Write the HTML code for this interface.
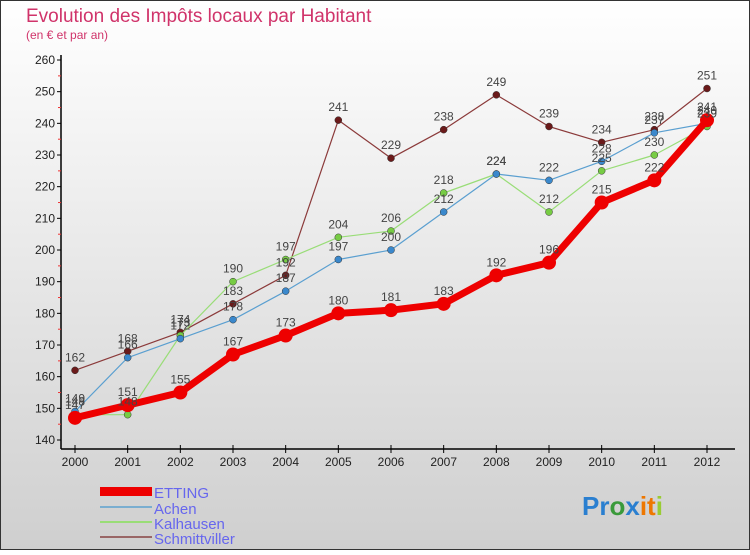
<!DOCTYPE html>
<html><head><meta charset="utf-8"><style>
body{margin:0;width:750px;height:550px;overflow:hidden;font-family:"Liberation Sans",sans-serif}
</style></head><body>
<svg width="750" height="550" xmlns="http://www.w3.org/2000/svg">
<defs><linearGradient id="bg" x1="0" y1="0" x2="0" y2="1"><stop offset="0" stop-color="#ffffff"/><stop offset="1" stop-color="#cfcfcf"/></linearGradient></defs>
<rect x="0.5" y="0.5" width="749" height="549" fill="url(#bg)" stroke="#333"/>
<text x="26" y="22" font-size="19" fill="#d0336a">Evolution des Impôts locaux par Habitant</text>
<text x="26" y="39" font-size="12" fill="#d0336a">(en € et par an)</text>
<g id="axes"></g><g id="series"></g><g id="labels"></g>
<g font-size="15" fill="#6666ee">
<rect x="100" y="487" width="52" height="9" fill="#ee0000"/>
<text x="154" y="498">ETTING</text>
<line x1="100" y1="507" x2="152" y2="507" stroke="#7aaed0" stroke-width="2"/>
<text x="154" y="514">Achen</text>
<line x1="100" y1="522" x2="152" y2="522" stroke="#99dd77" stroke-width="2"/>
<text x="154" y="529">Kalhausen</text>
<line x1="100" y1="537" x2="152" y2="537" stroke="#996666" stroke-width="2"/>
<text x="154" y="544">Schmittviller</text>
</g>
<text x="582" y="515" font-size="26" font-weight="bold"><tspan fill="#2a7fd0">Pr</tspan><tspan fill="#3a9a3a">o</tspan><tspan fill="#2a7fd0">x</tspan><tspan fill="#ee7700">it</tspan><tspan fill="#99cc33">i</tspan></text>
</svg>
<script>
const years=["2000","2001","2002","2003","2004","2005","2006","2007","2008","2009","2010","2011","2012"];
const etting=[147,151,155,167,173,180,181,183,192,196,215,222,241];
const achen=[149,166,172,178,187,197,200,212,224,222,228,237,240];
const kalhausen=[148,148,173,190,197,204,206,218,224,212,225,230,239];
const schmittviller=[162,168,174,183,192,241,229,238,249,239,234,238,251];
const yTicks=[140,150,160,170,180,190,200,210,220,230,240,250,260];
const NS="http://www.w3.org/2000/svg";
const X=i=>75+i*(707-75)/12, Y=v=>440-(v-140)*380/120;
function mk(t,p,a){const e=document.createElementNS(NS,t);for(const k in a)e.setAttribute(k,a[k]);p.appendChild(e);return e;}
const ax=document.getElementById('axes'),se=document.getElementById('series'),lb=document.getElementById('labels');
let l=mk('line',ax,{x1:61,y1:55,x2:61,y2:449,stroke:'#000','stroke-width':1.5});


l=mk('line',ax,{x1:61,y1:449,x2:735,y2:449,stroke:'#000','stroke-width':1.5});


yTicks.forEach(v=>{const y=Y(v);
mk('line',ax,{x1:57,y1:y,x2:61,y2:y,stroke:'#000'});
if(v<260)mk('line',ax,{x1:58,y1:y-15.8,x2:61,y2:y-15.8,stroke:'#e33'});
const t=mk('text',ax,{x:55,y:y+4,'font-size':12,'text-anchor':'end',fill:'#222'});t.textContent=v;

});
years.forEach((yr,i)=>{const x=X(i);mk('line',ax,{x1:x,y1:445,x2:x,y2:453,stroke:'#000'});
const t=mk('text',ax,{x:x,y:466,'font-size':12,'text-anchor':'middle',fill:'#222'});t.textContent=yr;

});
function draw(name,data,color,w,r,dot){
const p=mk('polyline',se,{points:data.map((v,i)=>X(i)+','+Y(v)).join(' '),fill:'none',stroke:color,'stroke-width':w,'stroke-linejoin':'round'});


data.forEach((v,i)=>{const c=mk('circle',se,{cx:X(i),cy:Y(v),r:r,fill:dot,stroke:'#333','stroke-width':r>5?0:0.5});


const t=mk('text',lb,{x:X(i),y:Y(v)-9,'font-size':12,'text-anchor':'middle',fill:'#444'});t.textContent=v;

});}
draw('schmittviller',schmittviller,'#8b3a3a',1.2,3.5,'#6b1a1a');
draw('kalhausen',kalhausen,'#99dd77',1.2,3.5,'#77cc44');
draw('achen',achen,'#5a9fd0',1.2,3.5,'#3a88cc');
draw('etting',etting,'#ee0000',7,7,'#ee0000');
</script>
</body></html>
